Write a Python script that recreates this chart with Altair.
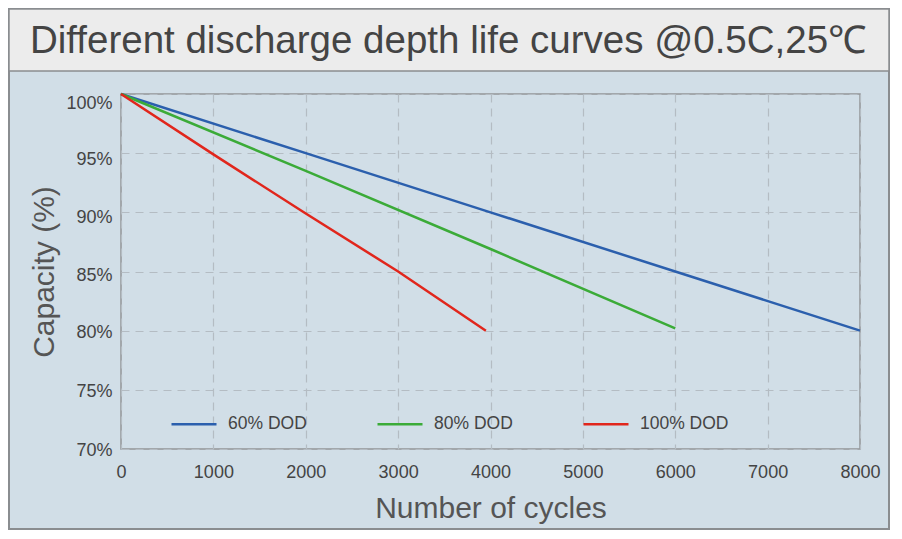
import altair as alt
import pandas as pd

series_names = ["60% DOD", "80% DOD", "100% DOD"]
series_colors = ["#2b5fad", "#3bab38", "#e1261c"]

dod60_cycles = [0, 2000, 4000, 6000, 8000]
dod60_capacity = [100, 95, 90, 85, 80]

dod80_cycles = [0, 2000, 4000, 6000]
dod80_capacity = [100, 93.5, 86.9, 80.2]

dod100_cycles = [0, 1000, 2000, 3000, 3950]
dod100_capacity = [100, 94.9, 89.9, 85, 80]

x_ticks = [0, 1000, 2000, 3000, 4000, 5000, 6000, 7000, 8000]
y_ticks = [70, 75, 80, 85, 90, 95, 100]

title_text = "Different discharge depth life curves @0.5C,25\u2103"

rows = []
for name, xs, ys in [
    (series_names[0], dod60_cycles, dod60_capacity),
    (series_names[1], dod80_cycles, dod80_capacity),
    (series_names[2], dod100_cycles, dod100_capacity),
]:
    for i, (x, y) in enumerate(zip(xs, ys)):
        rows.append({"series": name, "cycles": x, "capacity": y, "order": i})
df = pd.DataFrame(rows)

FONT = "Liberation Sans"
W, H = 739, 355
PAD = {"left": 113, "top": 86, "right": 30, "bottom": 81}

y_label_offset = {
    "condition": [
        {"test": "datum.value == 100", "value": 9},
        {"test": "datum.value == 95", "value": 6},
        {"test": "datum.value == 90", "value": 5},
        {"test": "datum.value == 85", "value": 4},
        {"test": "datum.value == 80", "value": 2},
        {"test": "datum.value == 75", "value": 2},
    ],
    "value": 1,
}

lines = alt.Chart(df).mark_line(strokeWidth=2.5).encode(
    x=alt.X("cycles:Q",
            scale=alt.Scale(domain=[0, 8000], nice=False),
            axis=alt.Axis(values=x_ticks, title="Number of cycles", grid=True,
                          format="d", labelFlush=False,
                          gridDash=[8, 6], gridColor="#b4bcc3", gridWidth=1.2,
                          domain=False, ticks=False, labelFontSize=18,
                          labelColor="#444444", labelPadding=14,
                          titleFontSize=30, titleFontWeight="normal",
                          titleColor="#555555", titlePadding=12,
                          labelFont=FONT, titleFont=FONT)),
    y=alt.Y("capacity:Q",
            scale=alt.Scale(domain=[70, 100], nice=False, zero=False),
            axis=alt.Axis(values=y_ticks, title="Capacity (%)", grid=True,
                          labelFlush=False,
                          gridDash=[8, 6], gridColor="#b4bcc3", gridWidth=1.2,
                          domain=False, ticks=False, labelFontSize=18,
                          labelColor="#444444", labelPadding=9,
                          labelOffset=y_label_offset,
                          labelExpr="datum.value + '%'",
                          titleFontSize=30, titleFontWeight="normal",
                          titleColor="#555555", titlePadding=6,
                          labelFont=FONT, titleFont=FONT)),
    color=alt.Color("series:N",
                    scale=alt.Scale(domain=series_names, range=series_colors),
                    legend=alt.Legend(orient="none", legendX=49, legendY=306,
                                      direction="horizontal", title=None,
                                      symbolType="stroke", symbolSize=2025,
                                      symbolStrokeWidth=2.5, labelFontSize=17.5,
                                      labelColor="#444444", labelFont=FONT,
                                      labelOffset=10, columnPadding=65)),
    order="order:Q",
)

frame_df = pd.DataFrame({"k": [0]})

outer = alt.Chart(frame_df).mark_rect(fillOpacity=0, stroke="#8a8d90",
                                     strokeWidth=2).encode(
    x=alt.value(-PAD["left"] + 1), x2=alt.value(W + PAD["right"] - 1),
    y=alt.value(-PAD["top"] + 1), y2=alt.value(H + PAD["bottom"] - 1))

title_box = alt.Chart(frame_df).mark_rect(fill="#ececec", stroke="#8a8d90",
                                         strokeWidth=1.5).encode(
    x=alt.value(-PAD["left"] + 1), x2=alt.value(W + PAD["right"] - 1),
    y=alt.value(-PAD["top"] + 1), y2=alt.value(-23))

title = alt.Chart(pd.DataFrame({"t": [title_text]})).mark_text(
    font=FONT, fontSize=38.5, color="#444444", align="center",
    baseline="middle").encode(
    text="t:N", x=alt.value(327), y=alt.value(-53))

chart = alt.layer(outer, title_box, title, lines).properties(
    width=W, height=H,
    autosize=alt.AutoSizeParams(type="none"),
    padding=PAD,
).configure(background="#d1dee7").configure_view(
    fill="#d1dee7", stroke="#929598", strokeWidth=1.5)

chart.save("out.html", embed_options={"renderer": "svg", "actions": False})
